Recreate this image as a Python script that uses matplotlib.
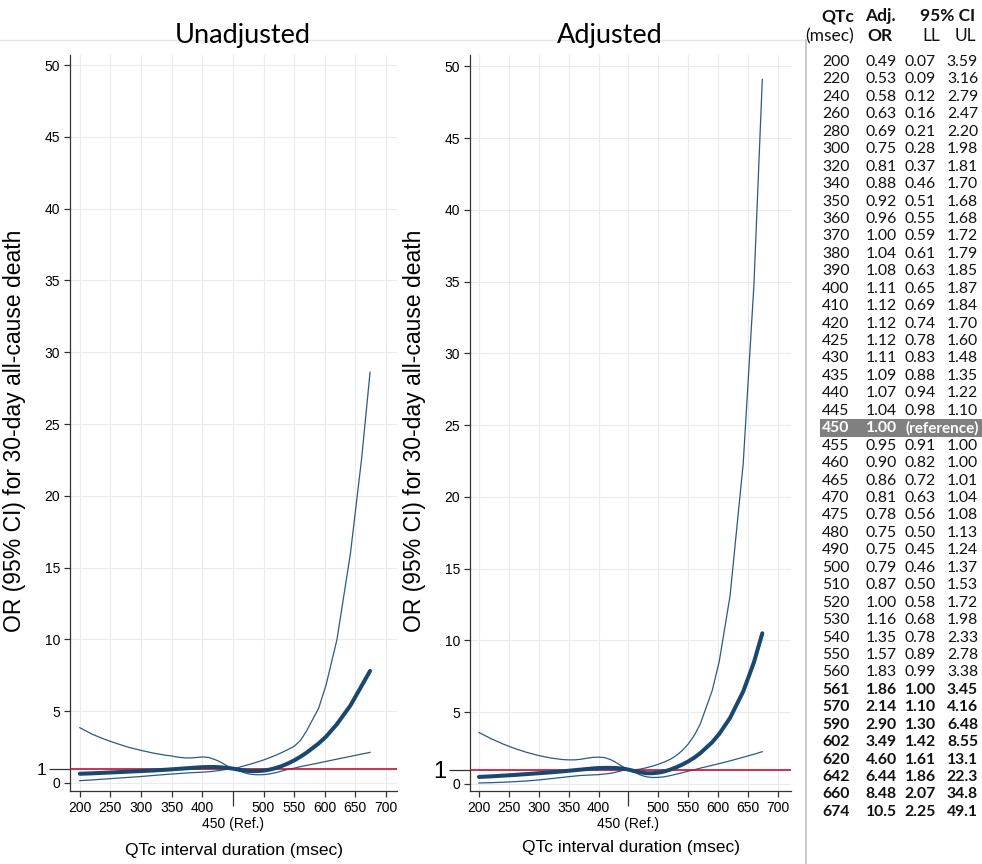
import matplotlib
matplotlib.use("Agg")
import matplotlib.pyplot as plt

# QTc grid (msec)
qtc = [200, 220, 240, 260, 280, 300, 320, 340, 350, 360, 370, 380, 390, 400,
       410, 420, 425, 430, 435, 440, 445, 450, 455, 460, 465, 470, 475, 480,
       490, 500, 510, 520, 530, 540, 550, 560, 561, 570, 590, 602, 620, 642,
       660, 674]

# adjusted OR and 95% CI (from the table)
adj_or = [0.49, 0.53, 0.58, 0.63, 0.69, 0.75, 0.81, 0.88, 0.92, 0.96, 1.00, 1.04,
          1.08, 1.11, 1.12, 1.12, 1.12, 1.11, 1.09, 1.07, 1.04, 1.00, 0.95, 0.90,
          0.86, 0.81, 0.78, 0.75, 0.75, 0.79, 0.87, 1.00, 1.16, 1.35, 1.57, 1.83,
          1.86, 2.14, 2.90, 3.49, 4.60, 6.44, 8.48, 10.5]
adj_ll = [0.07, 0.09, 0.12, 0.16, 0.21, 0.28, 0.37, 0.46, 0.51, 0.55, 0.59, 0.61,
          0.63, 0.65, 0.69, 0.74, 0.78, 0.83, 0.88, 0.94, 0.98, 1.00, 0.91, 0.82,
          0.72, 0.63, 0.56, 0.50, 0.45, 0.46, 0.50, 0.58, 0.68, 0.78, 0.89, 0.99,
          1.00, 1.10, 1.30, 1.42, 1.61, 1.86, 2.07, 2.25]
adj_ul = [3.59, 3.16, 2.79, 2.47, 2.20, 1.98, 1.81, 1.70, 1.68, 1.68, 1.72, 1.79,
          1.85, 1.87, 1.84, 1.70, 1.60, 1.48, 1.35, 1.22, 1.10, 1.00, 1.00, 1.00,
          1.01, 1.04, 1.08, 1.13, 1.24, 1.37, 1.53, 1.72, 1.98, 2.33, 2.78, 3.38,
          3.45, 4.16, 6.48, 8.55, 13.1, 22.3, 34.8, 49.1]

# unadjusted OR and 95% CI
unadj_or = [0.64, 0.67, 0.71, 0.75, 0.79, 0.83, 0.87, 0.92, 0.95, 0.98, 1.01, 1.04,
            1.07, 1.10, 1.11, 1.11, 1.10, 1.09, 1.07, 1.05, 1.03, 1.00, 0.96, 0.92,
            0.89, 0.86, 0.84, 0.83, 0.83, 0.86, 0.93, 1.04, 1.18, 1.36, 1.57, 1.82,
            1.85, 2.10, 2.75, 3.22, 4.10, 5.40, 6.75, 7.80]
unadj_ll = [0.16, 0.21, 0.27, 0.33, 0.39, 0.45, 0.52, 0.59, 0.62, 0.65, 0.68, 0.71,
            0.73, 0.75, 0.78, 0.82, 0.85, 0.88, 0.92, 0.95, 0.98, 1.00, 0.93, 0.85,
            0.77, 0.70, 0.64, 0.60, 0.57, 0.58, 0.63, 0.72, 0.83, 0.95, 1.03, 1.13,
            1.14, 1.22, 1.39, 1.50, 1.66, 1.85, 2.01, 2.13]
unadj_ul = [3.85, 3.40, 3.05, 2.75, 2.48, 2.27, 2.08, 1.93, 1.88, 1.80, 1.75, 1.74,
            1.77, 1.81, 1.78, 1.64, 1.55, 1.45, 1.33, 1.20, 1.09, 1.00, 1.04, 1.09,
            1.15, 1.21, 1.27, 1.33, 1.46, 1.60, 1.76, 1.93, 2.12, 2.33, 2.55, 2.95,
            3.00, 3.60, 5.20, 6.80, 10.0, 16.0, 22.5, 28.6]

# table text
tab_qtc = [str(q) for q in qtc]
tab_or = ["%.2f" % v if v < 10 else "%.1f" % v for v in adj_or]
tab_ll = ["%.2f" % v for v in adj_ll]
tab_ul = ["%.2f" % v if v < 10 else "%.1f" % v for v in adj_ul]
ref_qtc = 450
bold_from = 561

NAVY = "#1a476f"
THIN = "#2c5a84"
RED = "#c8102e"
W, H = 982, 864

fig = plt.figure(figsize=(W / 100, H / 100), dpi=100)


def px(x0, y0, x1, y1):
    return [x0 / W, 1 - y1 / H, (x1 - x0) / W, (y1 - y0) / H]


def panel(rect, xlim, ylim, orv, llv, ulv, one_size):
    ax = fig.add_axes(rect)
    ax.set_xlim(*xlim)
    ax.set_ylim(*ylim)
    ax.plot(qtc, ulv, color=THIN, lw=0.9, zorder=3)
    ax.plot(qtc, llv, color=THIN, lw=0.9, zorder=3)
    ax.axhline(1, color=RED, lw=1.2, zorder=4)
    ax.plot(qtc, orv, color=NAVY, lw=2.9, zorder=5, solid_capstyle="round")

    ax.set_xticks([200, 250, 300, 350, 400, 500, 550, 600, 650, 700])
    ax.set_xticks([ref_qtc], minor=True)
    ax.set_xticklabels(["450 (Ref.)"], minor=True)
    ax.set_yticks(list(range(0, 51, 5)))
    ax.set_yticks([1], minor=True)
    ax.set_yticklabels(["1"], minor=True)

    ax.tick_params(which="major", length=4, width=0.9, color="#333333",
                   labelsize=10, pad=3)
    ax.tick_params(axis="x", which="minor", length=11, width=0.9,
                   color="#333333", labelsize=10, pad=8)
    ax.tick_params(axis="y", which="minor", length=15, width=0.9,
                   color="#333333", labelsize=one_size, pad=2)
    for lab in ax.get_xticklabels() + ax.get_yticklabels():
        lab.set_family("Liberation Sans")
    for lab in ax.get_xticklabels(minor=True) + ax.get_yticklabels(minor=True):
        lab.set_family("Liberation Sans")

    ax.grid(True, which="both", color="#ebebeb", lw=0.8, zorder=0)
    ax.set_axisbelow(True)
    for s in ["top", "right"]:
        ax.spines[s].set_visible(False)
    for s in ["left", "bottom"]:
        ax.spines[s].set_color("#333333")
        ax.spines[s].set_linewidth(0.9)

    ax.set_xlabel("QTc interval duration (msec)", family="Liberation Sans",
                  fontsize=12.5)
    ax.set_ylabel("OR (95% CI) for 30-day all-cause death",
                  family="Liberation Sans", fontsize=16.5)
    return ax


ax1 = panel(px(70, 55, 397, 791), (184, 718), (-0.56, 50.7),
            unadj_or, unadj_ll, unadj_ul, 12.5)
ax1.yaxis.set_label_coords(-0.135, 0.49)
ax1.xaxis.set_label_coords(0.5, -0.071)
ax2 = panel(px(470, 55, 791, 791), (185, 722), (-0.49, 50.8),
            adj_or, adj_ll, adj_ul, 17)
ax2.yaxis.set_label_coords(-0.138, 0.49)
ax2.xaxis.set_label_coords(0.5, -0.066)

fig.text(243 / W, 1 - 35 / H, "Unadjusted", ha="center", va="center",
         family="Lato", fontsize=19.5)
fig.text(610 / W, 1 - 35 / H, "Adjusted", ha="center", va="center",
         family="Lato", fontsize=19.5)

# frame lines around the table
fig.add_artist(plt.Line2D([0, 806 / W], [1 - 40 / H, 1 - 40 / H],
                          color="#e6e6e6", lw=1))
fig.add_artist(plt.Line2D([806 / W, 806 / W], [0, 1 - 40 / H],
                          color="#c0c0c0", lw=1.2))


def ftext(x, y, s, ha="left", bold=False, color="#111111", size=11.3):
    fig.text(x / W, 1 - y / H, s, ha=ha, va="center", family="Lato",
             fontsize=size, fontweight="bold" if bold else "normal",
             color=color)


# header
ftext(838, 16, "QTc", ha="center", bold=True, size=12.5)
ftext(880, 16, "Adj.", ha="center", bold=True, size=12.5)
ftext(948, 16, "95% CI", ha="center", bold=True, size=12.5)
ftext(830, 36, "(msec)", ha="center", size=12.5)
ftext(880, 36, "OR", ha="center", bold=True, size=12.5)
ftext(931, 36, "LL", ha="center", size=12.5)
ftext(965, 36, "UL", ha="center", size=12.5)

row0, dy = 62, 17.44
for i, q in enumerate(qtc):
    y = row0 + i * dy
    if q == ref_qtc:
        fig.add_artist(plt.Rectangle((820 / W, 1 - (y + 9) / H), 162 / W,
                                     18 / H, color="#808080", lw=0))
        ftext(822, y, tab_qtc[i], bold=True, color="white")
        ftext(897, y, tab_or[i], ha="right", bold=True, color="white")
        ftext(906, y, "(reference)", bold=True, color="white", size=11)
        continue
    b = q >= bold_from
    ftext(822, y, tab_qtc[i], bold=b)
    ftext(897, y, tab_or[i], ha="right", bold=b)
    ftext(936, y, tab_ll[i], ha="right", bold=b)
    ftext(978, y, tab_ul[i], ha="right", bold=b)

fig.savefig("out.png", dpi=100)
